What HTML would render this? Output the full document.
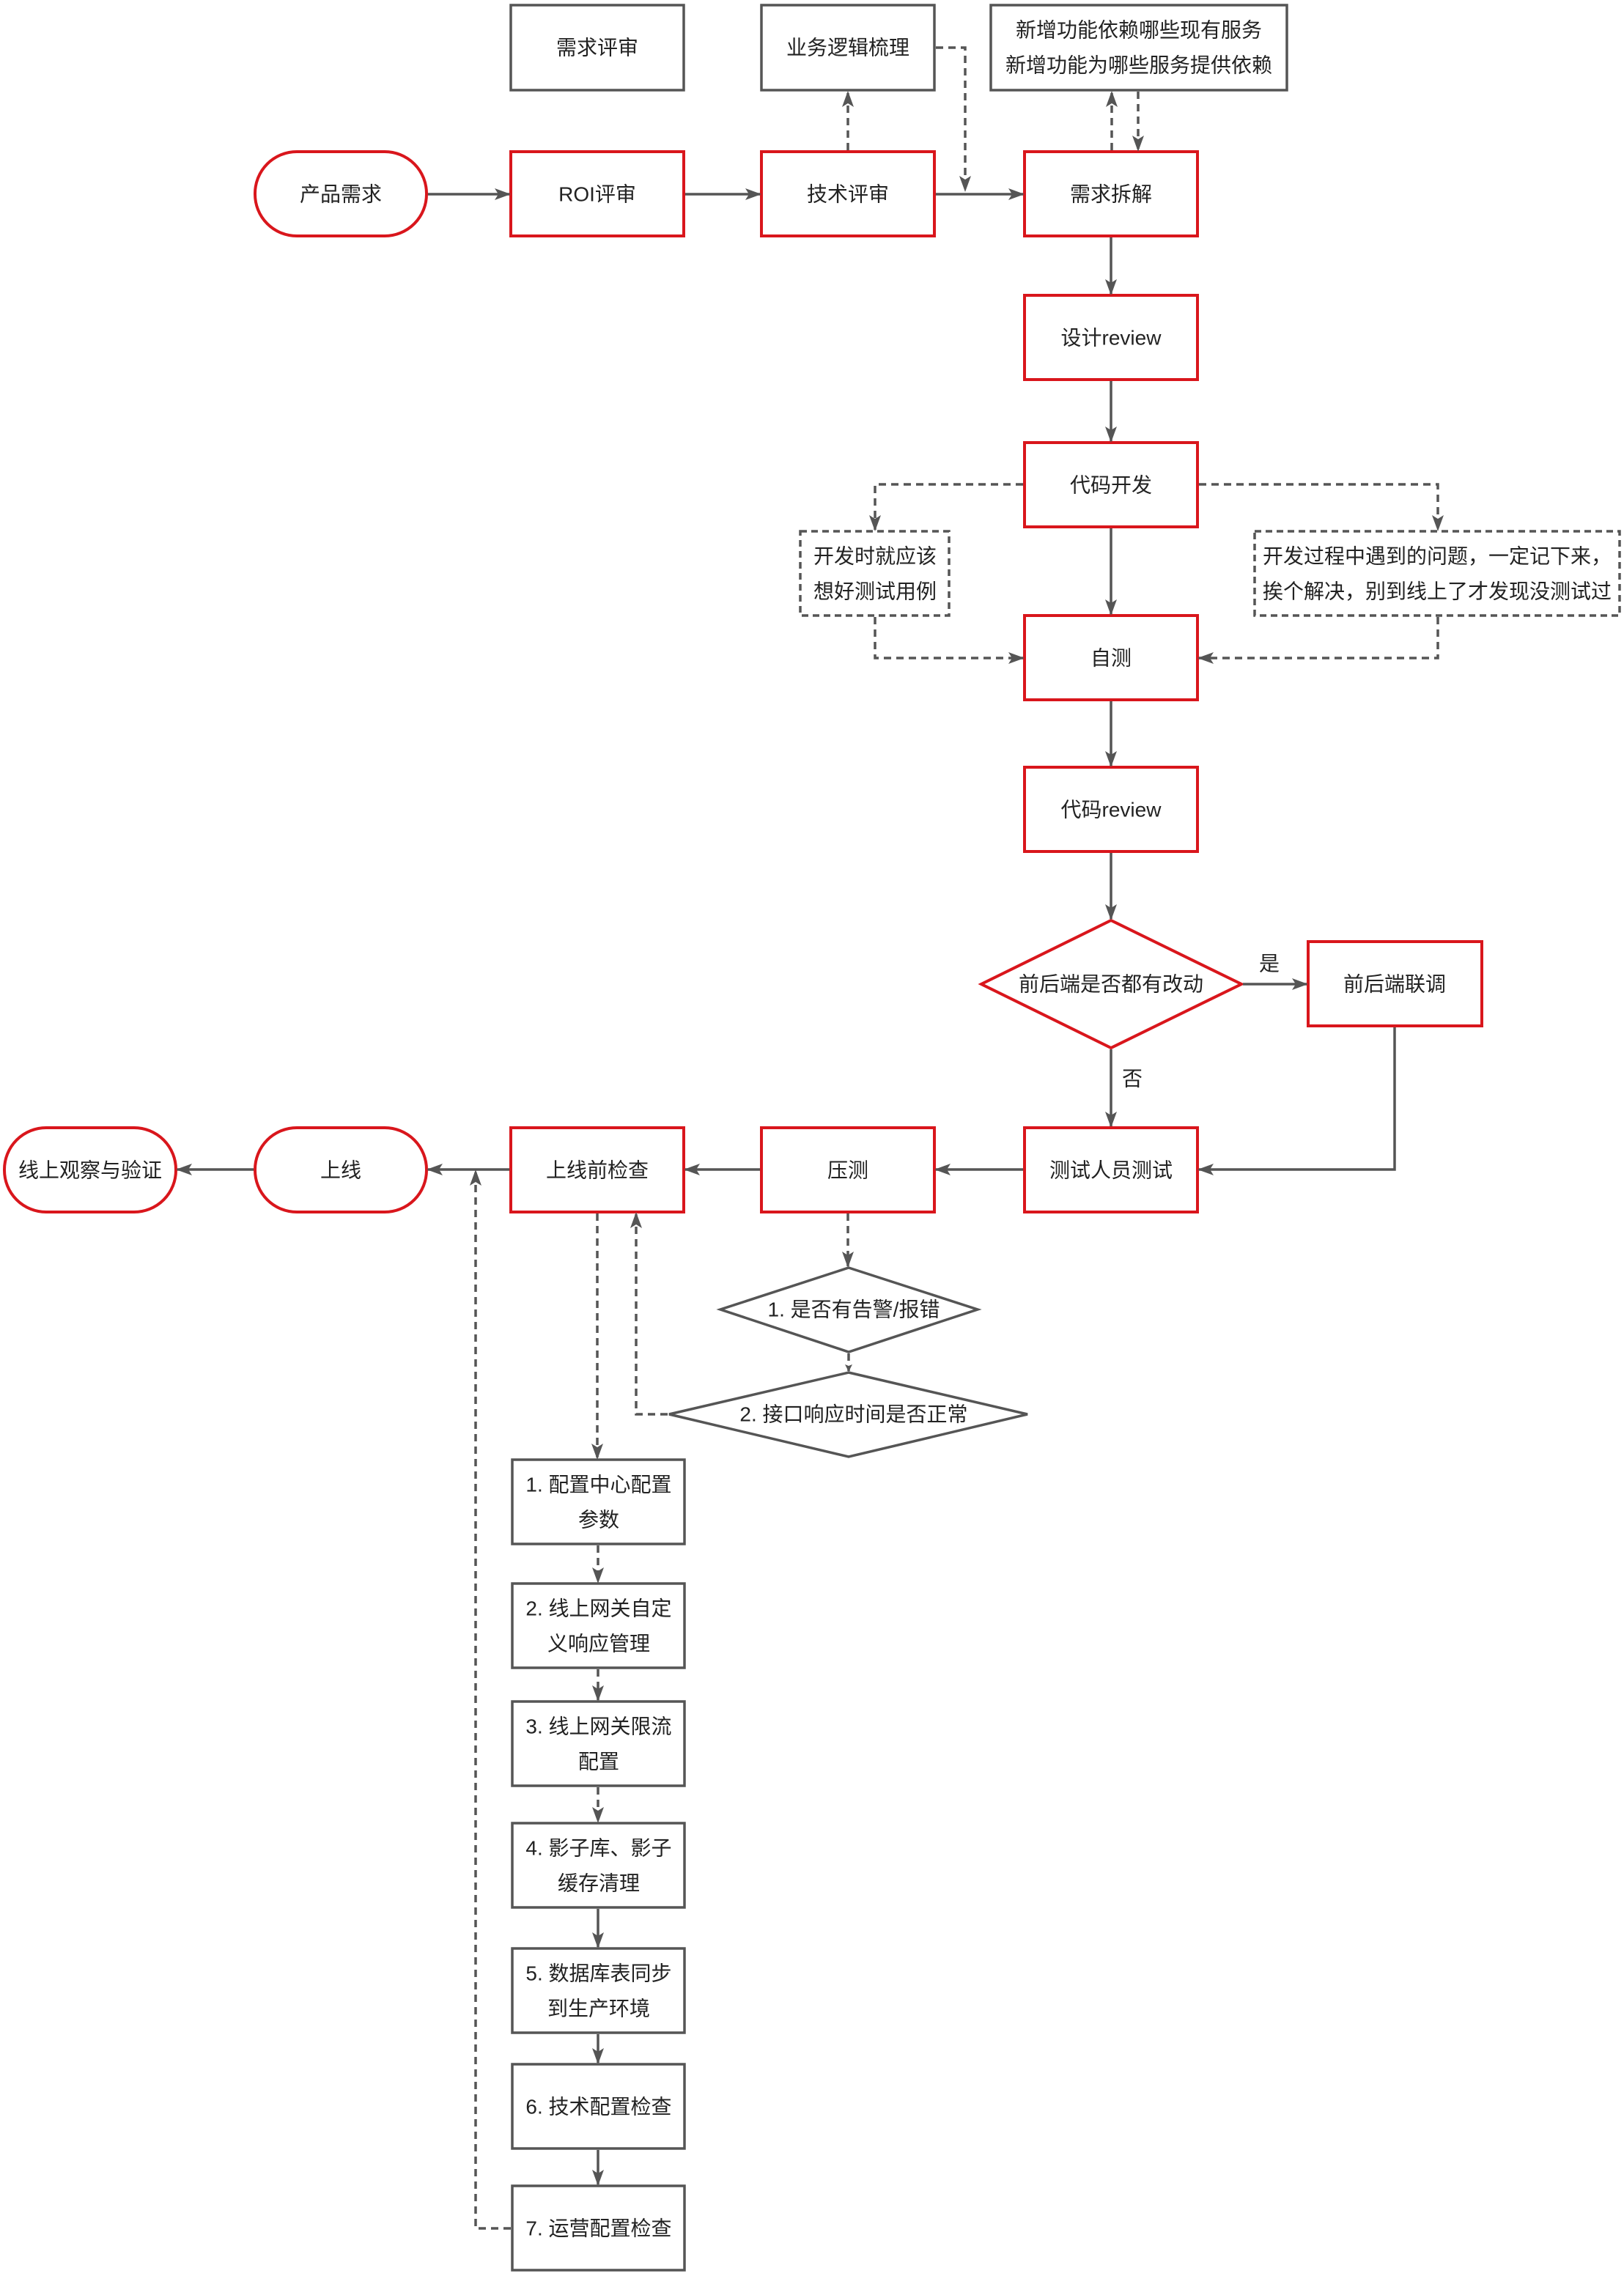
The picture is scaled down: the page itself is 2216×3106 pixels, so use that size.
<!DOCTYPE html>
<html><head><meta charset="utf-8"><style>
html,body{margin:0;padding:0;background:#fff;}
svg{display:block;}
text{font-family:"Liberation Sans","Noto Sans CJK SC",sans-serif;font-size:28px;fill:#222;text-anchor:middle;dominant-baseline:central;}
.r{fill:#fff;stroke:#d9161c;stroke-width:4;}
.g{fill:#fff;stroke:#555;stroke-width:3.5;}
.gd{fill:#fff;stroke:#555;stroke-width:3.5;stroke-dasharray:9 6;}
.l{fill:none;stroke:#555;stroke-width:3.5;}
.d{fill:none;stroke:#555;stroke-width:3.5;stroke-dasharray:10 7;}
</style></head><body>
<svg width="2216" height="3106" viewBox="0 0 2216 3106" xmlns="http://www.w3.org/2000/svg">
<defs><marker id="a" markerWidth="10" markerHeight="10" refX="9" refY="5" orient="auto" markerUnits="userSpaceOnUse" viewBox="0 0 10 10"><path d="M0,0 L10,5 L0,10 L2,5 z" fill="#555"/></marker>
<marker id="A" markerWidth="22" markerHeight="22" refX="20" refY="11" orient="auto" markerUnits="userSpaceOnUse" viewBox="0 0 22 22"><path d="M0,3 L22,11 L0,19 L5,11 z" fill="#555"/></marker></defs>

<!-- top row -->
<rect class="g" x="697" y="7" width="236" height="116"/><text x="815" y="65">需求评审</text>
<rect class="g" x="1039" y="7" width="236" height="116"/><text x="1157" y="65">业务逻辑梳理</text>
<rect class="g" x="1352" y="7" width="404" height="116"/><text x="1554" y="41">新增功能依赖哪些现有服务</text><text x="1554" y="89">新增功能为哪些服务提供依赖</text>

<rect class="r" x="348" y="207" width="234" height="115" rx="57"/><text x="465" y="265">产品需求</text>
<rect class="r" x="697" y="207" width="236" height="115"/><text x="815" y="265">ROI评审</text>
<rect class="r" x="1039" y="207" width="236" height="115"/><text x="1157" y="265">技术评审</text>
<rect class="r" x="1398" y="207" width="236" height="115"/><text x="1516" y="265">需求拆解</text>

<path class="l" d="M584,265 H695" marker-end="url(#A)"/>
<path class="l" d="M935,265 H1037" marker-end="url(#A)"/>
<path class="l" d="M1277,265 H1396" marker-end="url(#A)"/>
<path class="d" d="M1157,205 V126" marker-end="url(#A)"/>
<path class="d" d="M1277,65 H1317 V260" marker-end="url(#A)"/>
<path class="d" d="M1517,205 V126" marker-end="url(#A)"/>
<path class="d" d="M1553,125 V205" marker-end="url(#A)"/>

<rect class="r" x="1398" y="403" width="236" height="115"/><text x="1516" y="461">设计review</text>
<path class="l" d="M1516,324 V401" marker-end="url(#A)"/>
<rect class="r" x="1398" y="604" width="236" height="115"/><text x="1516" y="662">代码开发</text>
<path class="l" d="M1516,520 V602" marker-end="url(#A)"/>

<rect class="gd" x="1092" y="725" width="203" height="115"/><text x="1194" y="759">开发时就应该</text><text x="1194" y="807">想好测试用例</text>
<rect class="gd" x="1712" y="725" width="498" height="115"/><text x="1961" y="759">开发过程中遇到的问题，一定记下来，</text><text x="1961" y="807">挨个解决，别到线上了才发现没测试过</text>

<path class="d" d="M1396,661 H1194 V723" marker-end="url(#A)"/>
<path class="d" d="M1636,661 H1962 V723" marker-end="url(#A)"/>
<rect class="r" x="1398" y="840" width="236" height="115"/><text x="1516" y="898">自测</text>
<path class="l" d="M1516,721 V838" marker-end="url(#A)"/>
<path class="d" d="M1194,842 V898 H1396" marker-end="url(#A)"/>
<path class="d" d="M1962,842 V898 H1636" marker-end="url(#A)"/>

<rect class="r" x="1398" y="1047" width="236" height="115"/><text x="1516" y="1105">代码review</text>
<path class="l" d="M1516,957 V1045" marker-end="url(#A)"/>

<polygon class="r" points="1516,1256 1694,1343 1516,1430 1339,1343"/><text x="1516" y="1343">前后端是否都有改动</text>
<path class="l" d="M1516,1164 V1254" marker-end="url(#A)"/>
<rect class="r" x="1785" y="1285" width="237" height="115"/><text x="1903" y="1343">前后端联调</text>
<path class="l" d="M1696,1343 H1783" marker-end="url(#A)"/>
<text x="1732" y="1315">是</text>
<path class="l" d="M1516,1432 V1537" marker-end="url(#A)"/>
<text x="1545" y="1472">否</text>

<!-- row -->
<rect class="r" x="1398" y="1539" width="236" height="115"/><text x="1516" y="1597">测试人员测试</text>
<rect class="r" x="1039" y="1539" width="236" height="115"/><text x="1157" y="1597">压测</text>
<rect class="r" x="697" y="1539" width="236" height="115"/><text x="815" y="1597">上线前检查</text>
<rect class="r" x="348" y="1539" width="234" height="115" rx="57"/><text x="465" y="1597">上线</text>
<rect class="r" x="6" y="1539" width="234" height="115" rx="57"/><text x="123" y="1597">线上观察与验证</text>
<path class="l" d="M1903,1402 V1596 H1636" marker-end="url(#A)"/>
<path class="l" d="M1396,1596 H1277" marker-end="url(#A)"/>
<path class="l" d="M1037,1596 H935" marker-end="url(#A)"/>
<path class="l" d="M695,1596 H584" marker-end="url(#A)"/>
<path class="l" d="M346,1596 H242" marker-end="url(#A)"/>

<polygon class="g" points="1158,1730 1334,1787 1158,1845 983,1787"/><text x="1165" y="1787">1. 是否有告警/报错</text>
<polygon class="g" points="1158,1873 1402,1930 1158,1988 913,1930"/><text x="1165" y="1930">2. 接口响应时间是否正常</text>
<path class="d" d="M1157,1656 V1728" marker-end="url(#A)"/>
<path class="d" d="M1158,1847 V1871" marker-end="url(#a)"/>
<path class="d" d="M911,1930 H868 V1656" marker-end="url(#A)"/>
<path class="d" d="M815,1656 V1990" marker-end="url(#A)"/>

<!-- list -->
<rect class="g" x="699" y="1992" width="235" height="115"/><text x="817" y="2026">1. 配置中心配置</text><text x="817" y="2074">参数</text>
<rect class="g" x="699" y="2161" width="235" height="115"/><text x="817" y="2195">2. 线上网关自定</text><text x="817" y="2243">义响应管理</text>
<rect class="g" x="699" y="2322" width="235" height="115"/><text x="817" y="2356">3. 线上网关限流</text><text x="817" y="2404">配置</text>
<rect class="g" x="699" y="2488" width="235" height="115"/><text x="817" y="2522">4. 影子库、影子</text><text x="817" y="2570">缓存清理</text>
<rect class="g" x="699" y="2659" width="235" height="115"/><text x="817" y="2693">5. 数据库表同步</text><text x="817" y="2741">到生产环境</text>
<rect class="g" x="699" y="2817" width="235" height="115"/><text x="817" y="2875">6. 技术配置检查</text>
<rect class="g" x="699" y="2983" width="235" height="115"/><text x="817" y="3041">7. 运营配置检查</text>
<path class="d" d="M816,2109 V2159" marker-end="url(#A)"/>
<path class="d" d="M816,2278 V2320" marker-end="url(#A)"/>
<path class="d" d="M816,2439 V2486" marker-end="url(#A)"/>
<path class="l" d="M816,2605 V2657" marker-end="url(#A)"/>
<path class="l" d="M816,2776 V2815" marker-end="url(#A)"/>
<path class="l" d="M816,2934 V2981" marker-end="url(#A)"/>
<path class="d" d="M697,3041 H649 V1598" marker-end="url(#A)"/>
</svg>
</body></html>
